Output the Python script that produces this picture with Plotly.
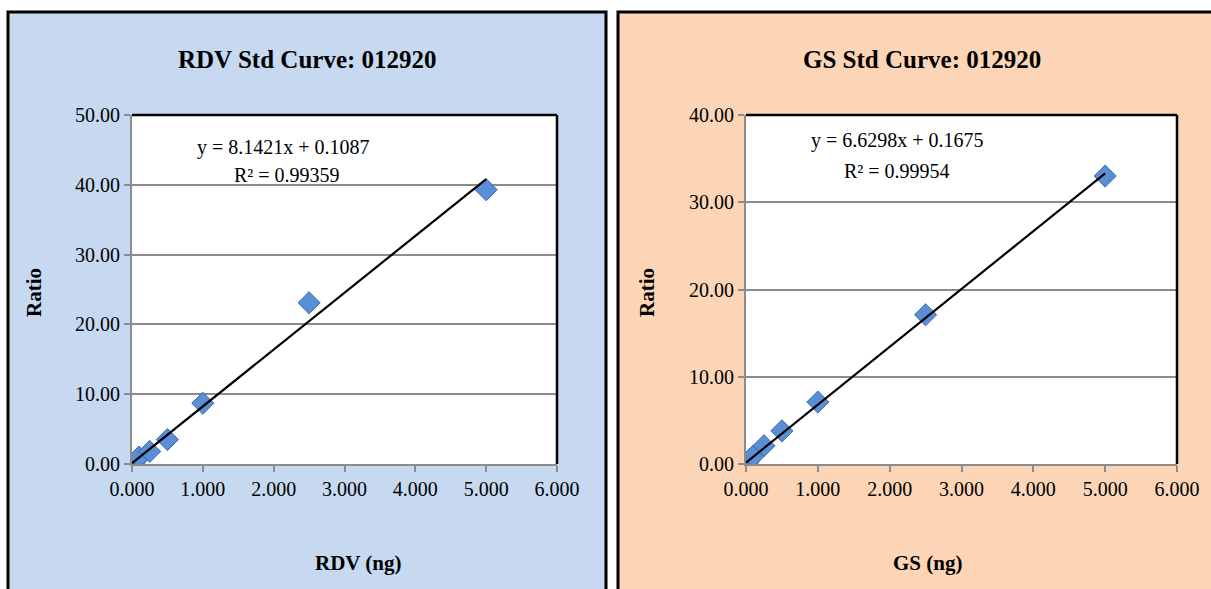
import plotly.graph_objects as go

# ---- data ----
rdv_x = [0.01, 0.025, 0.05, 0.1, 0.25, 0.5, 1.0, 2.5, 5.0]
rdv_y = [0.05, 0.2, 0.45, 1.0, 1.8, 3.5, 8.7, 23.1, 39.3]
gs_x = [0.01, 0.025, 0.05, 0.1, 0.25, 0.5, 1.0, 2.5, 5.0]
gs_y = [0.08, 0.25, 0.5, 0.9, 2.1, 3.8, 7.1, 17.1, 33.0]
rdv_fit = [8.1421, 0.1087]   # slope, intercept
gs_fit = [6.6298, 0.1675]
rdv_r2 = "0.99359"
gs_r2 = "0.99954"
x_ticks = [0, 1, 2, 3, 4, 5, 6]
rdv_yticks = [0, 10, 20, 30, 40, 50]
gs_yticks = [0, 10, 20, 30, 40]
fit_x = [0.0, 5.0]

W, H = 1211, 589
def px(x): return x / W
def py(y): return 1 - y / H

FONT = "Liberation Serif"
marker = dict(symbol="diamond", size=17, color="#5B8FD5",
              line=dict(color="#3A68AE", width=1))

fig = go.Figure()
for xs, ys, xa, ya in [(rdv_x, rdv_y, "x", "y"), (gs_x, gs_y, "x2", "y2")]:
    fig.add_trace(go.Scatter(x=xs, y=ys, mode="markers", xaxis=xa, yaxis=ya,
                             marker=marker, showlegend=False, hoverinfo="skip"))
for fit, xa, ya in [(rdv_fit, "x", "y"), (gs_fit, "x2", "y2")]:
    fig.add_trace(go.Scatter(x=fit_x, y=[fit[0] * v + fit[1] for v in fit_x],
                             mode="lines", xaxis=xa, yaxis=ya,
                             line=dict(color="black", width=2.2), showlegend=False))

axis_common = dict(showline=True, linecolor="#8c8c8c", linewidth=2,
                   ticks="outside", tickcolor="#8c8c8c", ticklen=6, tickwidth=2,
                   tickfont=dict(family=FONT, size=20, color="black"),
                   zeroline=False, automargin=False)

fig.update_layout(
    width=W, height=H, margin=dict(l=0, r=0, t=0, b=0, pad=0, autoexpand=False),
    paper_bgcolor="white", plot_bgcolor="white", showlegend=False,
    xaxis=dict(domain=[px(132), px(557)], range=[0, 6], tickvals=x_ticks,
               tickformat=".3f", showgrid=False, anchor="y", **axis_common),
    yaxis=dict(domain=[py(464), py(115)], range=[0, 50], tickvals=rdv_yticks,
               tickformat=".2f", showgrid=True, gridcolor="#8c8c8c", gridwidth=1.5,
               anchor="x", **axis_common),
    xaxis2=dict(domain=[px(746), px(1177)], range=[0, 6], tickvals=x_ticks,
                tickformat=".3f", showgrid=False, anchor="y2", **axis_common),
    yaxis2=dict(domain=[py(464), py(115)], range=[0, 40], tickvals=gs_yticks,
                tickformat=".2f", showgrid=True, gridcolor="#8c8c8c", gridwidth=1.5,
                anchor="x2", **axis_common),
)

shapes = [
    dict(type="rect", xref="paper", yref="paper", x0=px(8), x1=px(606),
         y0=py(600), y1=py(12), fillcolor="#C6D9F0",
         line=dict(color="black", width=3), layer="below"),
    dict(type="rect", xref="paper", yref="paper", x0=px(618), x1=px(1215),
         y0=py(600), y1=py(12), fillcolor="#FBD5B5",
         line=dict(color="black", width=3), layer="below"),
    dict(type="rect", xref="paper", yref="paper", x0=px(132), x1=px(557),
         y0=py(464), y1=py(115), fillcolor="white", line=dict(width=0), layer="below"),
    dict(type="rect", xref="paper", yref="paper", x0=px(746), x1=px(1177),
         y0=py(464), y1=py(115), fillcolor="white", line=dict(width=0), layer="below"),
]
for xd in ["x", "x2"]:
    yd = "y" if xd == "x" else "y2"
    shapes.append(dict(type="line", xref=xd + " domain", yref=yd + " domain",
                       x0=0, x1=1, y0=1, y1=1, line=dict(color="black", width=2.5)))
    shapes.append(dict(type="line", xref=xd + " domain", yref=yd + " domain",
                       x0=1, x1=1, y0=0, y1=1, line=dict(color="black", width=2.5)))
fig.update_layout(shapes=shapes)

ann = []
def text(x, y, t, size, bold=False, angle=0):
    ann.append(dict(xref="paper", yref="paper", x=px(x), y=py(y), text=("<b>%s</b>" % t) if bold else t,
                    showarrow=False, xanchor="center", yanchor="middle", textangle=angle,
                    font=dict(family=FONT, size=size, color="black")))

text(307, 60, "RDV Std Curve: 012920", 25, bold=True)
text(922, 60, "GS Std Curve: 012920", 25, bold=True)
text(34, 293, "Ratio", 21, bold=True, angle=-90)
text(647, 293, "Ratio", 21, bold=True, angle=-90)
text(358, 563, "RDV (ng)", 21, bold=True)
text(927, 563, "GS (ng)", 21, bold=True)
text(283, 147, "y = %.4fx + %.4f" % (rdv_fit[0], rdv_fit[1]), 20)
text(287, 175, "R² = " + rdv_r2, 20)
text(897, 140, "y = %.4fx + %.4f" % (gs_fit[0], gs_fit[1]), 20)
text(897, 171, "R² = " + gs_r2, 20)
fig.update_layout(annotations=ann)

fig.write_html("out.html", config={"displayModeBar": False},
               post_script="document.body.style.margin='0';document.body.style.overflow='hidden';")
